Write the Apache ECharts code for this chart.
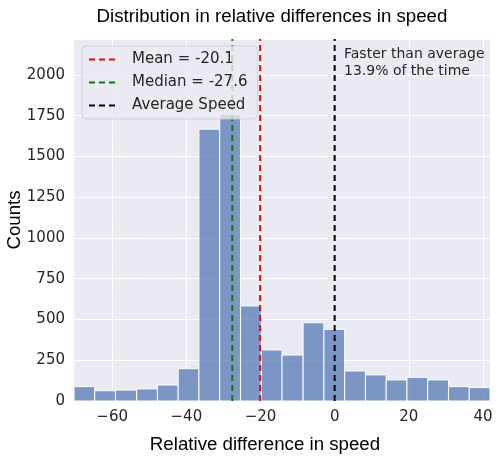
<!DOCTYPE html>
<html lang="en">
<head>
    <meta charset="UTF-8">
    <title>Distribution in relative differences in speed</title>
    <style>
        html, body { margin: 0; padding: 0; background: #fff; }
        #chart { width: 501px; height: 458px; }
    </style>
</head>
<body>
<div id="chart"></div>
<script src="https://cdn.jsdelivr.net/npm/echarts@6/dist/echarts.min.js"></script>
<script type="text/javascript">
    // histogram bin edges (20 bins) and counts per bin
    var binEdges = [-70.3, -64.7, -59.1, -53.4, -47.8, -42.2, -36.6, -31.0, -25.4, -19.8, -14.2,
                    -8.5, -2.9, 2.7, 8.3, 13.9, 19.5, 25.1, 30.7, 36.3, 41.9];
    var counts = [88, 63, 67, 74, 98, 198, 1667, 1759, 583, 313, 282,
                  480, 440, 184, 160, 129, 145, 129, 88, 82];
    var xTicks = [-60, -40, -20, 0, 20, 40];

    var meanValue = -20.1;
    var medianValue = -27.6;
    var averageSpeed = 0;
    var yTop = 2220;

    var histData = [];
    for (var i = 0; i < counts.length; i++) {
        histData.push([binEdges[i], binEdges[i + 1], counts[i]]);
    }

    function minus(v) {
        return String(v).replace('-', '\u2212');
    }

    function vline(name, x, color) {
        return {
            name: name,
            type: 'line',
            symbol: 'none',
            silent: true,
            z: 3,
            lineStyle: { color: color, width: 2, type: [6, 4] },
            itemStyle: { color: color },
            data: [[x, 0], [x, yTop]]
        };
    }

    var myChart = echarts.init(document.getElementById('chart'));
    var option = {
        animation: false,
        backgroundColor: '#fff',
        title: {
            text: 'Distribution in relative differences in speed',
            left: 267,
            textAlign: 'center',
            top: 2,
            textStyle: { fontFamily: 'Liberation Sans', fontSize: 18.7, fontWeight: 'normal', color: '#000' }
        },
        grid: {
            left: 74, right: 11, top: 39, bottom: 57,
            outerBoundsMode: 'none', containLabel: false,
            show: true, backgroundColor: '#EAEAF2', borderWidth: 0
        },
        legend: {
            orient: 'vertical',
            left: 82,
            top: 46,
            z: 6,
            itemWidth: 30,
            itemHeight: 12,
            itemGap: 8,
            padding: [6, 10, 6, 6],
            backgroundColor: 'rgba(234,234,242,0.8)',
            borderColor: 'rgba(204,204,204,0.8)',
            borderWidth: 1,
            borderRadius: 4,
            itemStyle: { opacity: 0 },
            textStyle: { fontFamily: 'DejaVu Sans', fontSize: 15, color: '#262626', padding: [0, 0, 0, 8] },
            data: ['Mean = -20.1', 'Median = -27.6', 'Average Speed']
        },
        xAxis: {
            type: 'value',
            min: binEdges[0],
            max: binEdges[binEdges.length - 1],
            name: 'Relative difference in speed',
            nameLocation: 'middle',
            nameGap: 34,
            nameMoveOverlap: false,
            nameTextStyle: { fontFamily: 'Liberation Sans', fontSize: 18.7, color: '#000', padding: [0, 34, 0, 0] },
            axisLine: { show: false },
            axisTick: { show: false, customValues: xTicks },
            axisLabel: {
                customValues: xTicks,
                fontFamily: 'DejaVu Sans', fontSize: 15, color: '#262626', margin: 9,
                formatter: minus
            },
            splitLine: { show: true, lineStyle: { color: '#fff', width: 1 } }
        },
        yAxis: {
            type: 'value',
            min: 0,
            max: yTop,
            interval: 250,
            name: 'Counts',
            nameLocation: 'middle',
            nameGap: 50,
            nameMoveOverlap: false,
            nameTextStyle: { fontFamily: 'Liberation Sans', fontSize: 18.7, color: '#000' },
            axisLine: { show: false },
            axisTick: { show: false },
            axisLabel: {
                showMaxLabel: false,
                fontFamily: 'DejaVu Sans', fontSize: 15, color: '#262626', margin: 9,
                formatter: function (v) { return String(v); }
            },
            splitLine: { show: true, lineStyle: { color: '#fff', width: 1 } }
        },
        graphic: [{
            type: 'text',
            left: 344,
            top: 46,
            style: {
                text: 'Faster than average\n13.9% of the time',
                fontFamily: 'DejaVu Sans',
                fontSize: 14,
                lineHeight: 17,
                fill: '#262626'
            },
            z: 10
        }],
        series: [
            {
                name: 'Counts',
                type: 'custom',
                z: 2,
                renderItem: function (params, api) {
                    var p0 = api.coord([api.value(0), 0]);
                    var p1 = api.coord([api.value(1), api.value(2)]);
                    return {
                        type: 'rect',
                        shape: { x: p0[0], y: p1[1], width: p1[0] - p0[0], height: p0[1] - p1[1] },
                        style: { fill: 'rgba(76,114,176,0.7)', stroke: '#fff', lineWidth: 1 }
                    };
                },
                encode: { x: [0, 1], y: 2 },
                data: histData
            },
            vline('Mean = -20.1', meanValue, '#ff0000'),
            vline('Median = -27.6', medianValue, '#008000'),
            vline('Average Speed', averageSpeed, '#000000')
        ]
    };
    myChart.setOption(option);
</script>
</body>
</html>
